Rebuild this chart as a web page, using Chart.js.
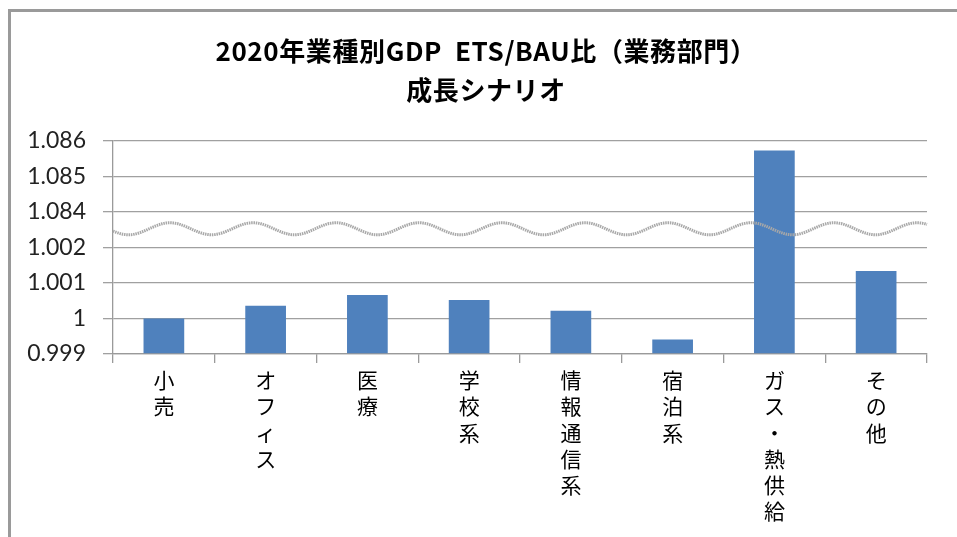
<!DOCTYPE html>
<html>
<head>
<meta charset="utf-8">
<script src="https://cdn.jsdelivr.net/npm/chart.js@4"></script>
<style>
  html, body { margin: 0; padding: 0; background: #fff; overflow: hidden; }
  #frame {
    position: absolute; left: 8px; top: 9px; width: 1000px; height: 600px;
    border-left: 3px solid #9a9a9a; border-top: 3px solid #9a9a9a;
  }
  #chart { position: absolute; left: 0; top: 0; }
  #title {
    position: absolute; left: 486px; top: 30px; transform: translateX(-50%);
    white-space: nowrap; text-align: center;
    font-family: "Noto Sans CJK JP", sans-serif; font-weight: bold;
    font-size: 26px; line-height: 39px; letter-spacing: 0.6px; color: #000;
  }
</style>
</head>
<body>
<div id="frame"></div>
<canvas id="chart" width="957" height="537"></canvas>
<div id="title">2020年業種別GDP&nbsp;&nbsp;ETS/BAU比（業務部門）<br>成長シナリオ</div>
<script>
// categories (one character per line, shown vertically)
const categories = ["小売", "オフィス", "医療", "学校系", "情報通信系", "宿泊系", "ガス・熱供給", "その他"];
// ETS/BAU ratio per category
const ratios = [1.0000, 1.00036, 1.00066, 1.00052, 1.00022, 0.99941, 1.08573, 1.00134];
// tick labels of the broken axis, bottom to top
const yTickLabels = ["0.999", "1", "1.001", "1.002", "1.084", "1.085", "1.086"];

// broken axis: 0.999..1.002 and 1.084..1.086 share one linear scale
function toAxis(v) {
  return v < 1.05 ? (v - 0.999) * 1000 : (v - 1.084) * 1000 + 4;
}

// wavy "break" line drawn across the plot between 1.002 and 1.084
const breakLine = {
  id: "breakLine",
  afterDatasetsDraw(chart) {
    const { ctx, chartArea } = chart;
    const y = chart.scales.y.getPixelForValue(3.5) - 1;
    ctx.save();
    ctx.strokeStyle = "#a8a8a8";
    ctx.lineWidth = 3;
    ctx.setLineDash([1.5, 0.8]);
    ctx.beginPath();
    for (let x = chartArea.left; x <= chartArea.right; x += 1) {
      const yy = y - 6 * Math.cos((x - 170) / 83 * 2 * Math.PI);
      if (x === chartArea.left) ctx.moveTo(x, yy); else ctx.lineTo(x, yy);
    }
    ctx.stroke();
    ctx.restore();
  }
};

new Chart(document.getElementById("chart"), {
  type: "bar",
  data: {
    labels: categories.map(c => c.split("")),
    datasets: [{
      data: ratios.map(toAxis),
      backgroundColor: "#4f81bd",
      borderWidth: 0,
      barPercentage: 0.8,
      categoryPercentage: 0.5
    }]
  },
  options: {
    responsive: false,
    animation: false,
    layout: { padding: { left: 0, right: 30, top: 141, bottom: 0 } },
    plugins: {
      legend: { display: false },
      tooltip: { enabled: false },
      title: { display: false }
    },
    scales: {
      x: {
        afterFit: s => { s.height = 183; },
        grid: { drawOnChartArea: false, drawTicks: true, tickLength: 9, offset: true, color: "#9a9a9a", lineWidth: 1.3 },
        border: { color: "#9a9a9a", width: 1.3 },
        ticks: {
          color: "#000",
          maxRotation: 0,
          autoSkip: false,
          padding: 4,
          font: { family: "'Noto Sans CJK JP'", size: 21, lineHeight: 1.25 }
        }
      },
      y: {
        min: 0,
        max: 6,
        afterFit: s => { s.width = 113; },
        grid: { color: "#a0a0a0", lineWidth: 1.3, tickLength: 10 },
        border: { color: "#9a9a9a", width: 1.3 },
        ticks: {
          stepSize: 1,
          color: "#222",
          padding: 17,
          font: { family: "Lato, 'Open Sans', sans-serif", size: 23 },
          callback: v => yTickLabels[v]
        }
      }
    }
  },
  plugins: [breakLine]
});
</script>
</body>
</html>
